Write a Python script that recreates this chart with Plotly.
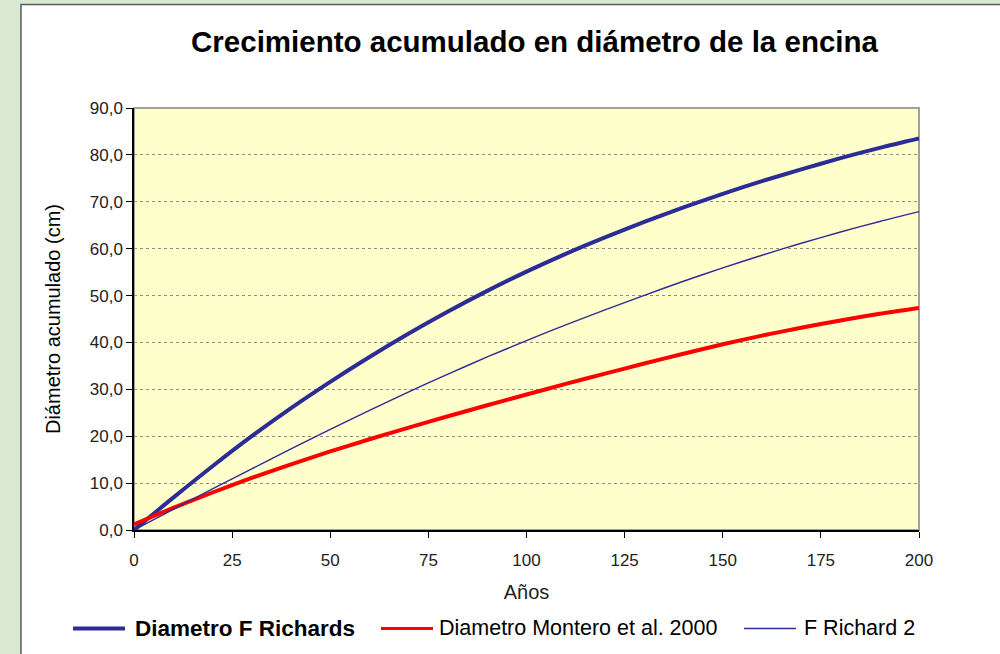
import plotly.graph_objects as go

# ---- data ----
years = [0, 10, 20, 30, 40, 50, 60, 70, 80, 90, 100,
         110, 120, 130, 140, 150, 160, 170, 180, 190, 200]
richards = [0.0, 6.9, 13.6, 20.0, 26.0, 31.6, 36.9, 41.9, 46.6, 51.0, 55.1,
            58.9, 62.4, 65.7, 68.8, 71.7, 74.4, 76.9, 79.3, 81.5, 83.5]
montero = [1.2, 4.7, 8.0, 11.1, 14.0, 16.75, 19.35, 21.85, 24.25, 26.6, 28.9,
           31.15, 33.35, 35.5, 37.6, 39.6, 41.45, 43.15, 44.7, 46.1, 47.35]
richard2 = [0.0, 4.4, 8.75, 13.05, 17.3, 21.45, 25.5, 29.45, 33.25, 36.9, 40.4,
            43.75, 46.95, 50.05, 53.05, 55.9, 58.6, 61.15, 63.55, 65.8, 67.9]

names = ["Diametro F Richards", "Diametro Montero et al. 2000", "F Richard 2"]
x_ticks = [0, 25, 50, 75, 100, 125, 150, 175, 200]
y_ticks = [0, 10, 20, 30, 40, 50, 60, 70, 80, 90]

title_text = "Crecimiento acumulado en diámetro de la encina"
x_title = "Años"
y_title = "Diámetro acumulado (cm)"

BLUE = "#2c2c96"
RED = "#ff0000"
GREEN = "#dae9d4"
FONT = "Liberation Sans, Arial, sans-serif"

W, H = 1000, 654
L, R, T, B = 134, 81, 108, 124
PW, PH = W - L - R, H - T - B


def px(x):
    return (x - L) / PW


def py(y):
    return (H - B - y) / PH


fig = go.Figure()
series = [(richards, BLUE, 4), (montero, RED, 4), (richard2, BLUE, 1.4)]
for (vals, col, wd), nm in zip(series, names):
    fig.add_trace(go.Scatter(
        x=years, y=vals, mode="lines", name=nm,
        line=dict(color=col, width=wd, shape="spline", smoothing=0.8),
        showlegend=False, hoverinfo="x+y+name"))

shapes = [
    # white chart area
    dict(type="rect", xref="paper", yref="paper", layer="below",
         x0=px(21), x1=px(1010), y0=py(670), y1=py(4.5),
         fillcolor="white", line=dict(color="#5a5a5a", width=1.5)),
    # plot area
    dict(type="rect", xref="paper", yref="paper", layer="below",
         x0=0, x1=1, y0=0, y1=1,
         fillcolor="#ffffcc", line=dict(color="#a0a0a0", width=2)),
]

# manual legend
leg = [
    (73, 125, BLUE, 4, 133, names[0], True, 22.5),
    (381, 433, RED, 3, 437, names[1], False, 21.5),
    (744, 796, BLUE, 1.5, 802, names[2], False, 21.5),
]
annotations = []
for x0, x1, col, wd, tx, nm, bold, fs in leg:
    shapes.append(dict(type="line", xref="paper", yref="paper",
                       x0=px(x0), x1=px(x1), y0=py(628.5), y1=py(628.5),
                       line=dict(color=col, width=wd)))
    annotations.append(dict(
        xref="paper", yref="paper", x=px(tx), y=py(628),
        xanchor="left", yanchor="middle", showarrow=False,
        text=f"<b>{nm}</b>" if bold else nm,
        font=dict(family=FONT, size=fs, color="#000000")))

fig.update_layout(
    width=W, height=H,
    margin=dict(l=L, r=R, t=T, b=B),
    paper_bgcolor=GREEN,
    plot_bgcolor="rgba(0,0,0,0)",
    separators=",.",
    title=dict(text=f"<b>{title_text}</b>", x=0.5345, xanchor="center",
               y=1 - 42 / H, yanchor="middle",
               font=dict(family=FONT, size=29.5, color="#000000")),
    shapes=shapes,
    annotations=annotations,
    showlegend=False,
    xaxis=dict(range=[0, 200], tickvals=x_ticks, ticks="outside", ticklen=6,
               tickcolor="#000", linecolor="#000", linewidth=1.5,
               showline=True, showgrid=False, zeroline=False,
               tickfont=dict(family=FONT, size=17, color="#222"),
               ticklabelstandoff=8,
               title=dict(text=x_title, standoff=16,
                          font=dict(family=FONT, size=20, color="#222"))),
    yaxis=dict(range=[0, 90], tickvals=y_ticks, tickformat=".1f",
               ticks="outside", ticklen=6, tickcolor="#000",
               linecolor="#000", linewidth=1.5, showline=True,
               showgrid=True, gridcolor="#8c8c8c", griddash="3px,3px",
               gridwidth=1, zeroline=False,
               tickfont=dict(family=FONT, size=17, color="#222"),
               title=dict(text=y_title, standoff=24,
                          font=dict(family=FONT, size=20, color="#000"))),
)

fig.write_html(
    "out.html",
    config={"displayModeBar": False},
    post_script="document.body.style.margin='0px';"
                "document.body.style.background='" + GREEN + "';",
)
